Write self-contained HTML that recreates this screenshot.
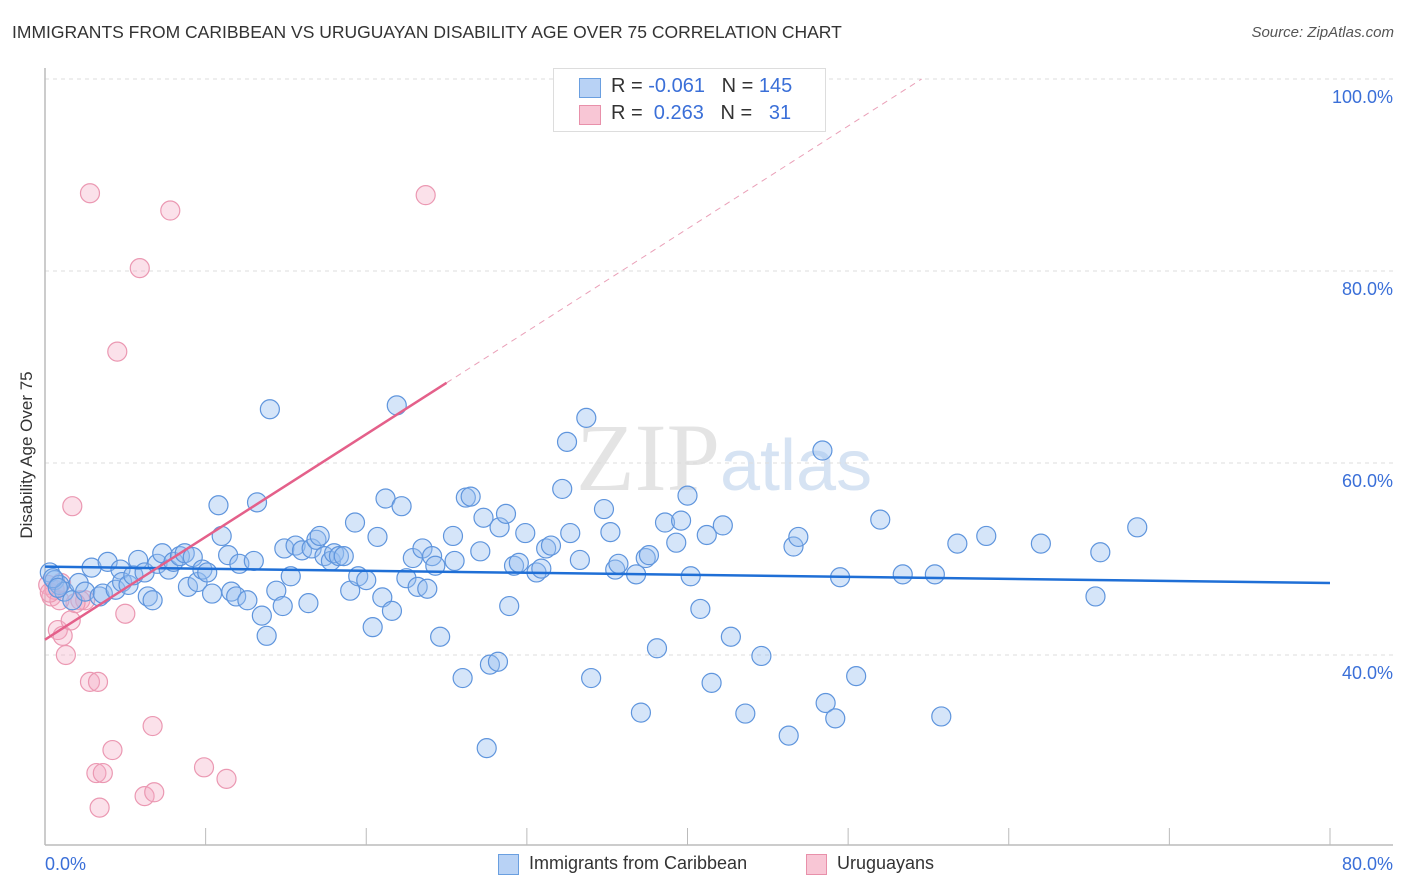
<!DOCTYPE html>
<html><head><meta charset="utf-8"><style>
body{margin:0;background:#fff;font-family:"Liberation Sans",sans-serif;}
#wrap{position:relative;width:1406px;height:892px;overflow:hidden;}
.t{position:absolute;white-space:nowrap;}
</style></head><body>
<div id="wrap">
<div class="t" style="left:12px;top:22px;font-size:17.5px;color:#333;">IMMIGRANTS FROM CARIBBEAN VS URUGUAYAN DISABILITY AGE OVER 75 CORRELATION CHART</div>
<div class="t" style="right:12px;top:24px;font-size:15px;color:#555;font-style:italic;">Source: ZipAtlas.com</div>
<svg id="plot" width="1406" height="892" style="position:absolute;left:0;top:0">
<text x="720" y="490" font-size="96" text-anchor="end" fill="#e4e4e4" font-family="Liberation Serif">ZIP</text>
<text x="720" y="490" font-size="72" fill="#d6e3f3" font-family="Liberation Sans">atlas</text>
</svg>
<div class="t" style="left:27px;top:455px;font-size:17px;color:#333;transform:translate(-50%,-50%) rotate(-90deg);">Disability Age Over 75</div>
<div style="position:absolute;left:553px;top:68px;width:271px;height:62px;border:1px solid #ddd;background:#fff;font-size:20px;">
 <div style="position:absolute;left:25px;top:9px;width:20px;height:18px;background:#b8d2f5;border:1px solid #6a9fe0;"></div>
 <div class="t" style="left:57px;top:6px;color:#333">R = <span style="color:#3a6fd8">-0.061</span>&nbsp;&nbsp;&nbsp;N = <span style="color:#3a6fd8">145</span></div>
 <div style="position:absolute;left:25px;top:36px;width:20px;height:18px;background:#f8c6d5;border:1px solid #e890aa;"></div>
 <div class="t" style="left:57px;top:33px;color:#333">R = &nbsp;<span style="color:#3a6fd8">0.263</span>&nbsp;&nbsp;&nbsp;N = &nbsp;&nbsp;<span style="color:#3a6fd8">31</span></div>
</div>
<div style="position:absolute;left:498px;top:853px;font-size:18px;color:#333;">
 <span style="position:absolute;left:0;top:1px;width:19px;height:19px;background:#b8d2f5;border:1px solid #6a9fe0"></span>
 <span class="t" style="left:31px;top:0">Immigrants from Caribbean</span>
 <span style="position:absolute;left:308px;top:1px;width:19px;height:19px;background:#f8c6d5;border:1px solid #e890aa"></span>
 <span class="t" style="left:339px;top:0">Uruguayans</span>
</div>
</div>
<script>
const xTicks=[0,10,20,30,40,50,60,70,80];
const yTicks=[40,60,80,100];
const yTickLabels=["40.0%","60.0%","80.0%","100.0%"];
const blueX=[0.3,0.6,0.9,1.2,1.7,2.1,2.5,2.9,3.4,3.6,3.9,4.4,4.7,4.8,5.2,5.5,5.8,6.2,6.4,6.7,7.0,7.3,7.7,8.0,8.4,8.7,8.9,9.2,9.5,9.8,10.1,10.4,10.8,11.0,11.4,11.6,11.9,12.1,12.6,13.0,13.2,13.5,13.8,14.0,14.4,14.8,14.9,15.3,15.6,16.0,16.4,16.6,16.9,17.1,17.4,17.8,18.0,18.3,18.6,19.0,19.3,19.5,20.0,20.4,20.7,21.0,21.2,21.6,21.9,22.2,22.5,22.9,23.2,23.5,23.8,24.1,24.3,24.6,25.4,25.5,26.0,26.2,26.5,27.1,27.3,27.5,27.7,28.2,28.3,28.7,28.9,29.2,29.5,29.9,30.6,30.9,31.2,31.5,32.2,32.5,32.7,33.3,33.7,34.0,34.8,35.2,35.5,35.7,36.8,37.1,37.4,37.6,38.1,38.6,39.3,39.6,40.0,40.2,40.8,41.2,41.5,42.2,42.7,43.6,44.6,46.3,46.6,46.9,48.4,48.6,49.2,49.5,50.5,52.0,53.4,55.4,55.8,56.8,58.6,62.0,65.4,65.7,68.0,0.5,0.8];
const blueY=[48.6,47.8,47.3,46.6,45.7,47.5,46.6,49.1,46.1,46.4,49.7,46.8,48.9,47.6,47.3,48.3,49.9,48.6,46.1,45.7,49.5,50.6,48.9,49.7,50.3,50.6,47.1,50.2,47.6,48.9,48.6,46.4,55.6,52.4,50.4,46.6,46.1,49.5,45.7,49.8,55.9,44.1,42.0,65.6,46.7,45.1,51.1,48.2,51.4,50.9,45.4,51.1,52.0,52.4,50.3,49.8,50.6,50.3,50.3,46.7,53.8,48.2,47.8,42.9,52.3,46.0,56.3,44.6,66.0,55.5,48.0,50.1,47.1,51.1,46.9,50.3,49.3,41.9,52.4,49.8,37.6,56.4,56.5,50.8,54.3,30.3,39.0,39.3,53.3,54.7,45.1,49.3,49.6,52.7,48.6,49.0,51.1,51.4,57.3,62.2,52.7,49.9,64.7,37.6,55.2,52.8,48.9,49.5,48.4,34.0,50.1,50.4,40.7,53.8,51.7,54.0,56.6,48.2,44.8,52.5,37.1,53.5,41.9,33.9,39.9,31.6,51.3,52.3,61.3,35.0,33.4,48.1,37.8,54.1,48.4,48.4,33.6,51.6,52.4,51.6,46.1,50.7,53.3,48.0,47.0];
const pinkX=[0.2,0.4,0.6,0.8,1.1,1.3,1.7,1.6,2.2,2.5,1.9,2.8,3.3,2.8,3.2,3.6,3.4,4.2,4.5,5.0,5.9,6.2,6.7,6.8,7.8,9.9,11.3,23.7,0.9,0.3,1.0];
const pinkY=[47.3,46.1,46.8,42.6,42.0,40.0,55.5,43.6,45.7,45.7,45.4,37.2,37.2,88.1,27.7,27.7,24.1,30.1,71.6,44.3,80.3,25.3,32.6,25.7,86.3,28.3,27.1,87.9,45.7,46.5,47.5];
const blueTrend=[49.2,47.5];
const pinkTrend=[41.6,1.07];

const X0=45,X1=1330,Y0=1039;
const sx=v=>X0+(v/80)*(X1-X0);
const sy=v=>Y0-v*9.6;
const svg=document.getElementById('plot');
const NS='http://www.w3.org/2000/svg';
function mk(tag,attrs){const e=document.createElementNS(NS,tag);for(const k in attrs)e.setAttribute(k,attrs[k]);svg.appendChild(e);return e;}
yTicks.forEach((v,i)=>{
 const g=mk('line',{x1:45,x2:1393,y1:sy(v),y2:sy(v),stroke:'#ddd','stroke-dasharray':'4,4'});
 
 
 const t=mk('text',{x:1393,y:sy(v)+24,'text-anchor':'end','font-size':18,fill:'#3a6fd8'});
 t.textContent=yTickLabels[i];
 
 
});
const ax=mk('line',{x1:45,x2:1393,y1:845,y2:845,stroke:'#bbb','stroke-width':1.5});


const ay=mk('line',{x1:45,x2:45,y1:68,y2:845,stroke:'#bbb','stroke-width':1.5});


xTicks.forEach(v=>{
 const l=mk('line',{x1:sx(v),x2:sx(v),y1:828,y2:845,stroke:'#bbb'});
 
 
});
const xl0=mk('text',{x:45,y:870,'font-size':18,fill:'#3a6fd8'});xl0.textContent=xTicks[0].toFixed(1)+'%';


const xl1=mk('text',{x:1393,y:870,'font-size':18,fill:'#3a6fd8','text-anchor':'end'});xl1.textContent=xTicks[xTicks.length-1].toFixed(1)+'%';


pinkX.forEach((x,i)=>{
 const c=mk('circle',{cx:sx(x),cy:sy(pinkY[i]),r:9.5,fill:'rgba(244,170,195,0.35)',stroke:'#eb98b2','stroke-width':1.2});
 
 
});
blueX.forEach((x,i)=>{
 const c=mk('circle',{cx:sx(x),cy:sy(blueY[i]),r:9.5,fill:'rgba(150,190,240,0.4)',stroke:'#5f95dd','stroke-width':1.2});
 
 
});
const bt=mk('line',{x1:sx(0),y1:sy(blueTrend[0]),x2:sx(80),y2:sy(blueTrend[1]),stroke:'#1f6fd6','stroke-width':2.5});


const pe=25;
const pt=mk('line',{x1:sx(0),y1:sy(pinkTrend[0]),x2:sx(pe),y2:sy(pinkTrend[0]+pinkTrend[1]*pe),stroke:'#e4608a','stroke-width':2.5});


const xe=(100-pinkTrend[0])/pinkTrend[1];
const pd=mk('line',{x1:sx(pe),y1:sy(pinkTrend[0]+pinkTrend[1]*pe),x2:sx(xe),y2:sy(100),stroke:'#eaa0b8','stroke-width':1,'stroke-dasharray':'6,5'});


</script>
</body></html>
